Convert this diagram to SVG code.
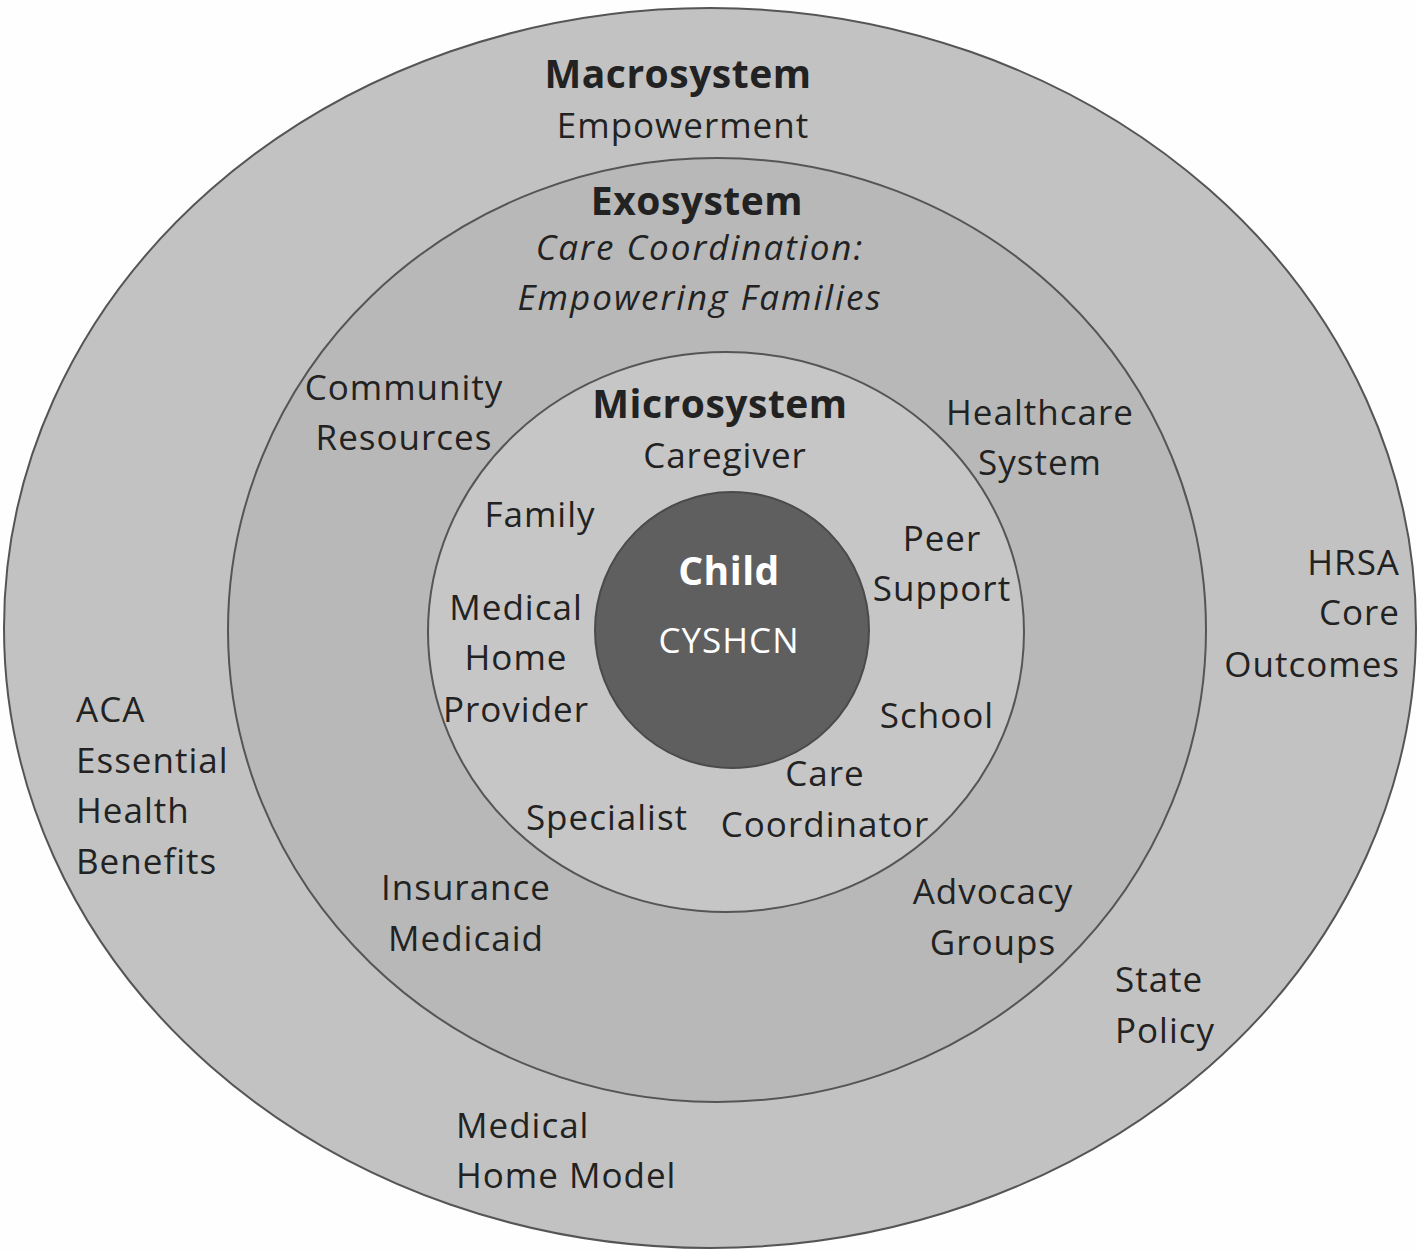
<svg xmlns="http://www.w3.org/2000/svg" width="1417" height="1250" viewBox="0 0 1417 1250">
<style>
.ring{stroke:#555;stroke-width:2}
text{font-family:"Open Sans","Noto Sans","DejaVu Sans",sans-serif;font-size:35px;letter-spacing:1px;fill:#222}
.b{font-weight:bold;font-size:39px;letter-spacing:0.5px}
.i{font-style:italic;letter-spacing:2px}
.c{text-anchor:middle}
.r{text-anchor:end}
.w{fill:#fff}
</style>
<rect width="1417" height="1250" fill="#fefefe"/>
<g id="macrosystem">
<ellipse class="ring" cx="710" cy="628" rx="706" ry="620" fill="#c2c2c2"/>
<text class="b c" x="678" y="88">Macrosystem</text>
<text class="c" x="683" y="138">Empowerment</text>
<text class="r" x="1400" y="575">HRSA</text>
<text class="r" x="1400" y="625">Core</text>
<text class="r" x="1400" y="677">Outcomes</text>
<text x="76" y="722">ACA</text>
<text x="76" y="773">Essential</text>
<text x="76" y="823">Health</text>
<text x="76" y="874">Benefits</text>
<text x="1115" y="992">State</text>
<text x="1115" y="1043">Policy</text>
<text x="456" y="1138">Medical</text>
<text x="456" y="1188">Home Model</text>
</g>
<g id="exosystem">
<ellipse class="ring" cx="717" cy="630" rx="489" ry="472" fill="#b8b8b8"/>
<text class="b c" x="697" y="215">Exosystem</text>
<text class="i c" x="700" y="260">Care Coordination:</text>
<text class="i c" x="700" y="310">Empowering Families</text>
<text class="c" x="404" y="400">Community</text>
<text class="c" x="404" y="450">Resources</text>
<text class="c" x="1040" y="425">Healthcare</text>
<text class="c" x="1040" y="475">System</text>
<text class="c" x="466" y="900">Insurance</text>
<text class="c" x="466" y="951">Medicaid</text>
<text class="c" x="993" y="904">Advocacy</text>
<text class="c" x="993" y="955">Groups</text>
</g>
<g id="microsystem">
<ellipse class="ring" cx="726" cy="632" rx="298" ry="280" fill="#c6c6c6"/>
<text class="b c" x="720" y="418">Microsystem</text>
<text class="c" x="725" y="468">Caregiver</text>
<text class="c" x="540" y="527">Family</text>
<text class="c" x="942" y="551">Peer</text>
<text class="c" x="942" y="601">Support</text>
<text class="c" x="516" y="620">Medical</text>
<text class="c" x="516" y="670">Home</text>
<text class="c" x="516" y="722">Provider</text>
<text class="c" x="937" y="728">School</text>
<text class="c" x="825" y="786">Care</text>
<text class="c" x="825" y="837">Coordinator</text>
<text class="c" x="607" y="830">Specialist</text>
</g>
<g id="child">
<ellipse cx="732" cy="630" rx="137" ry="138" fill="#5f5f5f" stroke="#4a4a4a" stroke-width="2"/>
<text class="b c w" x="729" y="585">Child</text>
<text class="c w" x="729" y="653">CYSHCN</text>
</g>
<g id="connectors"/>
</svg>
